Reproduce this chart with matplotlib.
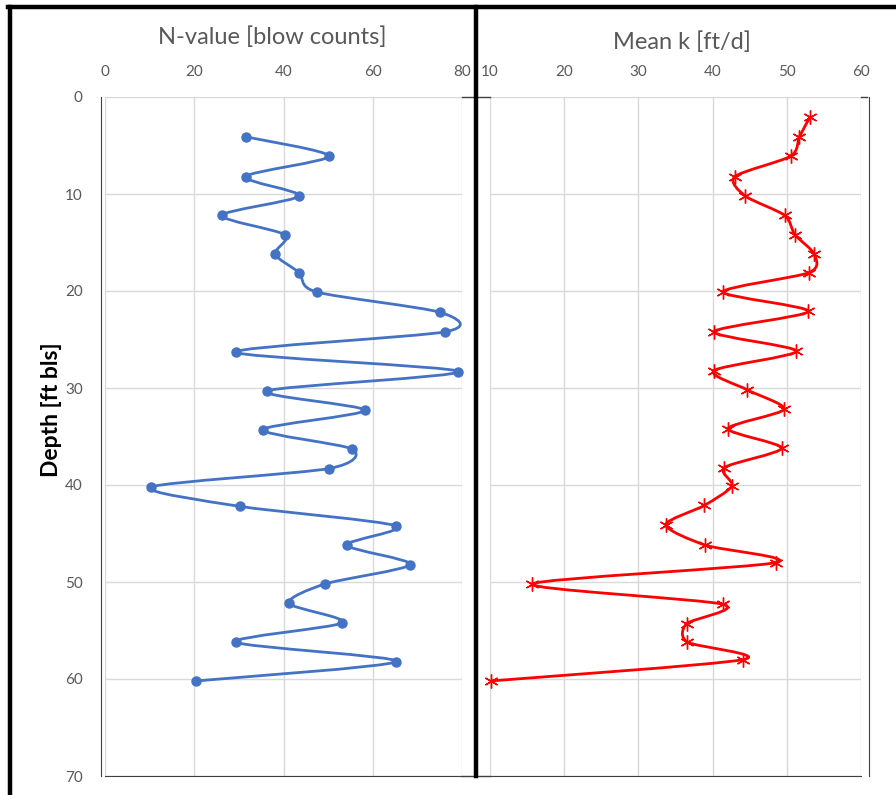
import numpy as np
import matplotlib
matplotlib.use("Agg")
import matplotlib.pyplot as plt
from matplotlib.path import Path
from matplotlib.patches import PathPatch
from matplotlib.lines import Line2D

plt.rcParams['font.family'] = ['Lato', 'DejaVu Sans']

# N-value profile (left)
depth_n = [4.1, 6.1, 8.2, 10.2, 12.2, 14.2, 16.2, 18.1, 20.1, 22.2, 24.2, 26.3, 28.3, 30.3,
           32.3, 34.3, 36.3, 38.3, 40.2, 42.2, 44.2, 46.2, 48.2, 50.2, 52.2, 54.2, 56.2, 58.2, 60.2]
n_value = [31.5, 50.2, 31.5, 43.5, 26.2, 40.3, 38.1, 43.5, 47.4, 75.1, 76.3, 29.3, 79.2, 36.3,
           58.2, 35.4, 55.4, 50.2, 10.4, 30.2, 65.1, 54.2, 68.4, 49.3, 41.2, 53.2, 29.3, 65.3, 20.4]

# mean k profile (right)
depth_k = [2.1, 4.1, 6.1, 8.2, 10.2, 12.2, 14.2, 16.2, 18.1, 20.1, 22.1, 24.2, 26.2, 28.2, 30.2,
           32.2, 34.2, 36.2, 38.2, 40.1, 42.1, 44.1, 46.2, 48.0, 50.2, 52.3, 54.3, 56.2, 58.0, 60.2]
mean_k = [53.1, 51.7, 50.5, 43.0, 44.4, 49.7, 51.1, 53.7, 53.0, 41.4, 52.9, 40.2, 51.3, 40.2, 44.7,
          49.6, 42.1, 49.3, 41.6, 42.6, 38.9, 33.7, 39.0, 48.5, 15.7, 41.4, 36.5, 36.6, 44.1, 10.1]

grid_c = '#D9D9D9'
txt_c = '#595959'
axis_c = '#404040'


def smooth_path(x, y, t=1 / 7.5):
    # excel style smoothed line (catmull-rom -> bezier)
    pts = np.column_stack([x, y])
    p = np.vstack([pts[0], pts, pts[-1]])
    verts = [pts[0]]
    codes = [Path.MOVETO]
    for i in range(1, len(p) - 2):
        c1 = p[i] + (p[i + 1] - p[i - 1]) * t
        c2 = p[i + 1] - (p[i + 2] - p[i]) * t
        verts += [c1, c2, p[i + 1]]
        codes += [Path.CURVE4] * 3
    return Path(verts, codes)


W, H = 896, 795
fig = plt.figure(figsize=(W / 100, H / 100), dpi=100)


def fx(px):
    return px / W


def fy(py):
    return 1 - py / H


ax1 = fig.add_axes([fx(105), fy(776), fx(462) - fx(105), fy(97) - fy(776)])
ax2 = fig.add_axes([fx(490), fy(776), fx(861) - fx(490), fy(97) - fy(776)])

for ax in (ax1, ax2):
    ax.set_ylim(70, 0)
    ax.set_yticks(range(0, 71, 10))
    ax.xaxis.tick_top()
    ax.grid(True, color=grid_c, lw=1)
    ax.set_axisbelow(True)
    for s in ax.spines.values():
        s.set_visible(False)
    ax.tick_params(length=0, colors=txt_c, labelsize=11)
    ax.tick_params(axis='x', pad=13)

ax1.set_xlim(0, 80)
ax1.set_xticks(range(0, 81, 20))
ax1.tick_params(axis='y', pad=13)
ax1.spines['left'].set_visible(True)
ax1.spines['left'].set_position(('outward', 3))
ax1.spines['left'].set_color(axis_c)
ax1.spines['bottom'].set_visible(True)
ax1.spines['bottom'].set_color(axis_c)

ax2.set_xlim(10, 60)
ax2.set_xticks(range(10, 61, 10))
ax2.tick_params(axis='y', labelleft=False)
ax2.spines['right'].set_visible(True)
ax2.spines['right'].set_position(('outward', 6))
ax2.spines['right'].set_color(axis_c)
ax2.spines['bottom'].set_visible(True)
ax2.spines['bottom'].set_color(axis_c)

ax1.add_patch(PathPatch(smooth_path(n_value, depth_n), fc='none', ec='#4472C4', lw=2))
ax1.plot(n_value, depth_n, ls='none', marker='o', ms=6.5, color='#4472C4', clip_on=False)

ax2.add_patch(PathPatch(smooth_path(mean_k, depth_k), fc='none', ec='#FF0000', lw=2))
ax2.plot(mean_k, depth_k, ls='none', marker=(6, 2, 0), ms=10, mew=1, color='#FF0000', clip_on=False)

fig.text(fx(272), fy(37), 'N-value [blow counts]', ha='center', va='center', fontsize=17, color=txt_c)
fig.text(fx(682), fy(42), 'Mean k [ft/d]', ha='center', va='center', fontsize=17, color=txt_c)
fig.text(fx(52), fy(410), 'Depth [ft bls]', ha='center', va='center', rotation=90,
         fontsize=16.5, fontweight='bold', color='black')

# connecting axis lines between the two charts
fig.add_artist(Line2D([fx(462), fx(490)], [fy(776), fy(776)], color=axis_c, lw=1))
fig.add_artist(Line2D([fx(462), fx(490)], [fy(97), fy(97)], color=axis_c, lw=1))
fig.add_artist(Line2D([fx(861), fx(867)], [fy(97), fy(97)], color=axis_c, lw=1))

# outer frame and separator
fig.add_artist(Line2D([fx(10), fx(10)], [fy(7), 0], color='black', lw=3.2))
fig.add_artist(Line2D([fx(8), 1], [fy(7), fy(7)], color='black', lw=3.2))
fig.add_artist(Line2D([fx(476), fx(476)], [fy(7), fy(776)], color='black', lw=3.2))

fig.savefig('out.png', dpi=100)
